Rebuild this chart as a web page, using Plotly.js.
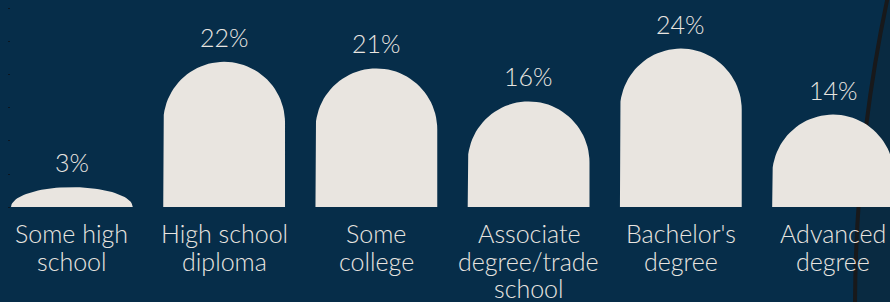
<!DOCTYPE html>
<html>
<head>
<meta charset="utf-8">
<script src="https://cdn.plot.ly/plotly-3.0.1.min.js"></script>
<style>html,body{margin:0;padding:0;background:#062d49;}#chart{width:890px;height:302px;}</style>
</head>
<body>
<div id="chart"></div>
<script>
var categories = ["Some high<br>school", "High school<br>diploma", "Some<br>college", "Associate<br>degree/trade<br>school", "Bachelor's<br>degree", "Advanced<br>degree"];
var values = [3, 22, 21, 16, 24, 14];
var valueLabels = ["3%", "22%", "21%", "16%", "24%", "14%"];

var bg = "#062d49";
var cream = "#e9e5e0";
var fontFam = "Lato, 'Open Sans', sans-serif";

var W = 890, H = 302;
var M = { l: 11, r: 0, t: 0, b: 95 };
var yMax = 31.36;
var xRange = [-0.4, 5.374];
var halfW = 0.4;
var plotH = H - M.t - M.b;
var plotW = W - M.l - M.r;

// Bar outlines (rectangle with an elliptical / semicircular top), built from the values
var capPx = halfW * plotW / (xRange[1] - xRange[0]);   // cap radius in pixels = half bar width
var capData = capPx * yMax / plotH;                      // same radius in y data units
var bx = [], by = [];
values.forEach(function(v, i){
  var ry = Math.min(v, capData);
  var base = v - ry;
  bx.push(i - halfW); by.push(0);
  var n = 48;
  for (var k = 0; k <= n; k++) {
    var t = Math.PI - Math.PI * k / n;
    bx.push(i + halfW * Math.cos(t));
    by.push(base + ry * Math.sin(t));
  }
  bx.push(i + halfW); by.push(0);
  bx.push(i - halfW); by.push(0);
  bx.push(null); by.push(null);
});

var bars = {
  type: "scatter", mode: "lines", x: bx, y: by,
  fill: "toself", fillcolor: cream,
  line: { width: 0, color: cream },
  hoverinfo: "none", connectgaps: false
};

var annotations = values.map(function(v, i){
  return {
    x: i, y: v, xref: "x", yref: "y",
    text: valueLabels[i], showarrow: false,
    yanchor: "bottom", yshift: 8,
    font: { family: fontFam, size: 25, color: cream, weight: 300 }
  };
});

// Category labels, one annotation per line for tight line spacing
categories.forEach(function(c, i){
  c.split("<br>").forEach(function(line, k){
    annotations.push({
      x: i, y: 0, xref: "x", yref: "paper",
      text: line, showarrow: false,
      yanchor: "top", yshift: -(9 + 27.5 * k),
      font: { family: fontFam, size: 25, color: cream, weight: 300 }
    });
  });
});

var layout = {
  width: W, height: H,
  margin: M,
  paper_bgcolor: bg, plot_bgcolor: bg,
  showlegend: false,
  xaxis: {
    range: xRange,
    showticklabels: false,
    showgrid: false, zeroline: false, showline: false, ticks: "",
    fixedrange: true
  },
  yaxis: {
    range: [0, yMax],
    showgrid: false, zeroline: false, showline: false,
    showticklabels: false, ticks: "outside", ticklen: 2, tickwidth: 1,
    tickcolor: "#0b1620", dtick: 5, tick0: 0, fixedrange: true
  },
  shapes: [{
    type: "circle", xref: "paper", yref: "paper", layer: "below",
    x0: (855 - M.l) / plotW, x1: (855 - M.l + 2 * 1500) / plotW,
    y0: (plotH - 310 - 1500) / plotH, y1: (plotH - 310 + 1500) / plotH,
    line: { color: "#18191b", width: 4 },
    fillcolor: "#092a41"
  }],
  annotations: annotations
};

Plotly.newPlot("chart", [bars], layout, { displayModeBar: false, staticPlot: true });
</script>
</body>
</html>
